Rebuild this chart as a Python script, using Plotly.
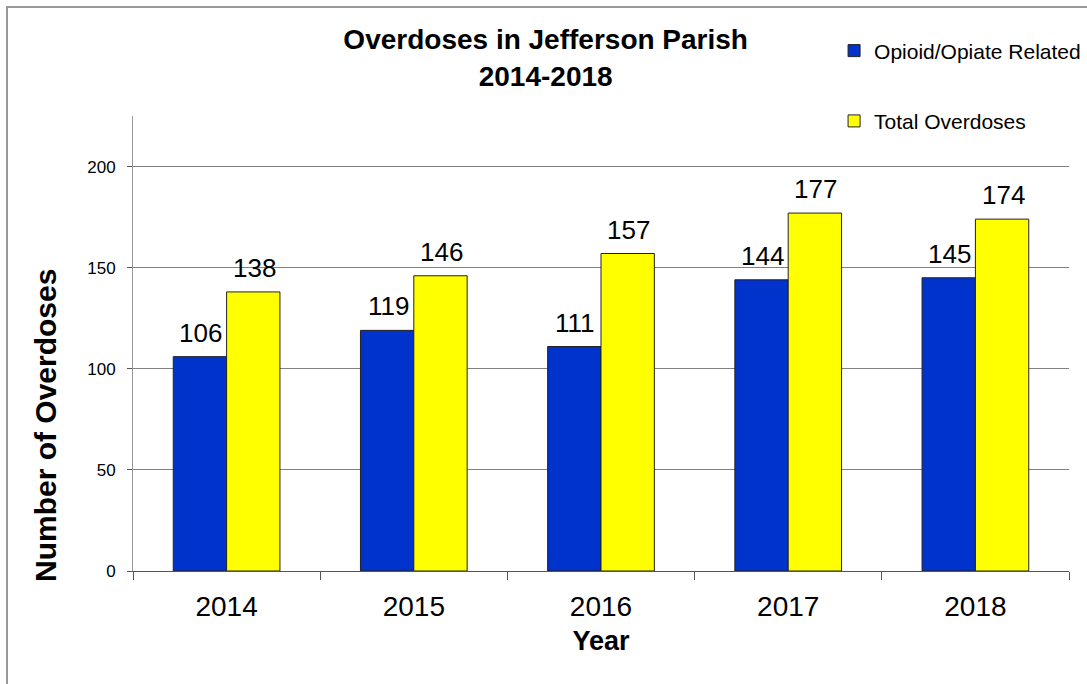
"""Overdoses in Jefferson Parish, 2014-2018: grouped bar chart."""

import plotly.graph_objects as go

# Data
years = ["2014", "2015", "2016", "2017", "2018"]
opioid_related = [106, 119, 111, 144, 145]
total_overdoses = [138, 146, 157, 177, 174]

COLOR_OPIOID = "#0033CC"
COLOR_TOTAL = "#FFFF00"
FONT = "Liberation Sans, Arial, sans-serif"

# half a bar width in px: (936 px / 5 categories) * (1 - bargap) / 2 bars / 2
HALF_BAR = 936 / 5 * (1 - 0.43) / 4

fig = go.Figure()

fig.add_trace(go.Bar(
    x=years, y=opioid_related, name="Opioid/Opiate Related",
    marker=dict(color=COLOR_OPIOID, line=dict(color="#222222", width=1)),
    legendgroup="a",
))
fig.add_trace(go.Bar(
    x=years, y=total_overdoses, name="Total Overdoses",
    marker=dict(color=COLOR_TOTAL, line=dict(color="#222222", width=1)),
    legendgroup="b",
))

# value labels above bars (sitting a bit higher than plotly's own outside text).
# x is given as the category index: numeric-looking strings would be read as numbers.
annotations = []
for i, (a, b) in enumerate(zip(opioid_related, total_overdoses)):
    for val, shift in ((a, -HALF_BAR), (b, HALF_BAR)):
        annotations.append(dict(
            x=i, y=val, xref="x", yref="y", text=str(val),
            showarrow=False, xanchor="center", yanchor="bottom",
            xshift=shift + 1, yshift=7, font=dict(size=26, color="black"),
        ))

# y title as an annotation: it sits lower than the axis middle in the original
annotations.append(dict(
    x=(45 - 133) / 936, y=(571 - 426) / 455, xref="paper", yref="paper",
    text="<b>Number of Overdoses</b>", textangle=-90, showarrow=False,
    xanchor="center", yanchor="middle", font=dict(size=30, color="black"),
))

fig.update_layout(
    width=1087, height=684,
    margin=dict(l=133, r=18, t=116, b=113, autoexpand=False),
    paper_bgcolor="white", plot_bgcolor="white",
    font=dict(family=FONT, color="black"),
    barmode="group", bargap=0.43, bargroupgap=0,
    title=dict(
        text="<b>Overdoses in Jefferson Parish<br>2014-2018</b>",
        x=0.502, xanchor="center", y=0.928, yanchor="middle",
        font=dict(size=28),
    ),
    legend=dict(
        x=0.749, xanchor="left", y=1.188, yanchor="top",
        font=dict(size=21), tracegroupgap=40,
        bgcolor="rgba(0,0,0,0)",
    ),
    xaxis=dict(
        type="category", range=[-0.5, 4.5],
        title=dict(text="<b>Year</b>", font=dict(size=27), standoff=10),
        tickfont=dict(size=28), tickson="boundaries", ticklabelstandoff=10,
        ticks="outside", ticklen=8, tickcolor="#555555",
        showline=True, linecolor="#555555", linewidth=1,
    ),
    yaxis=dict(
        range=[0, 225], tickvals=[0, 50, 100, 150, 200],
        tickfont=dict(size=17), ticks="outside", ticklen=5, tickcolor="#555555",
        ticklabelstandoff=8,
        showgrid=True, gridcolor="#808080", gridwidth=1,
        showline=True, linecolor="#999999", linewidth=1,
        zeroline=False,
    ),
    annotations=annotations,
    shapes=[
        dict(type="rect", xref="paper", yref="paper",
             x0=(7 - 133) / 936, x1=1.1, y0=-0.3, y1=(571 - 7) / 455,
             line=dict(color="#999999", width=2), layer="below"),
    ],
)

# drop the browser's default body margin so the figure sits at the page corner
fig.write_html(
    "out.html",
    config={"displayModeBar": False},
    post_script="document.body.style.margin = '0';",
)
